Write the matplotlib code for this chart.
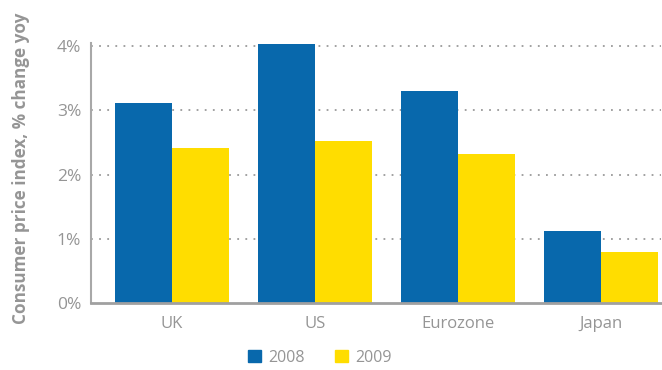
import matplotlib
matplotlib.use("Agg")
import matplotlib.pyplot as plt
import numpy as np
from matplotlib.patches import Patch

categories = ["UK", "US", "Eurozone", "Japan"]
series_names = ["2008", "2009"]
values_2008 = [3.12, 4.03, 3.31, 1.12]
values_2009 = [2.42, 2.52, 2.32, 0.80]
yticks = [0, 1, 2, 3, 4]
ytick_labels = ["0%", "1%", "2%", "3%", "4%"]

blue = "#0868AC"
yellow = "#FFDD00"
grey = "#959595"

plt.rcParams['font.family'] = ['Open Sans', 'DejaVu Sans']

fig = plt.figure(figsize=(6.62, 3.70), dpi=100)
ax = fig.add_axes([91/662, 1-303/370, (661-91)/662, (303-43)/370])

x = np.arange(len(categories))
w = 0.4
ax.bar(x - w/2, values_2008, w, color=blue, zorder=3)
ax.bar(x + w/2, values_2009, w, color=yellow, zorder=3)

ax.set_xlim(-0.566, 3.42)
ax.set_ylim(0, 4.05)
ax.set_yticks(yticks)
ax.set_yticklabels(ytick_labels)
ax.set_xticks(x)
ax.set_xticklabels(categories)
ax.tick_params(axis='both', length=0, colors=grey, labelsize=12)
ax.tick_params(axis='y', labelsize=12.5, pad=7)
ax.tick_params(axis='x', pad=9)

for yv in yticks[1:]:
    ax.axhline(yv, color="#9a9a9a", linestyle=(0, (1, 3.5)), linewidth=1.3, zorder=1)

for s in ['top', 'right']:
    ax.spines[s].set_visible(False)
ax.spines['left'].set_color("#a8a8a8")
ax.spines['left'].set_linewidth(1.5)
ax.spines['bottom'].set_color("#a0a0a0")
ax.spines['bottom'].set_linewidth(2)
ax.spines['bottom'].set_zorder(4)

fig.text(0.031, 0.545, "Consumer price index, % change yoy", rotation=90,
         ha='center', va='center', color=grey, fontsize=12.3, fontweight='bold')

handles = [Patch(color=blue, label=series_names[0]), Patch(color=yellow, label=series_names[1])]
leg = fig.legend(handles=handles, loc='center', bbox_to_anchor=(0.483, 0.033), ncol=2,
                 frameon=False, fontsize=11.5, handlelength=0.8, handleheight=0.8,
                 handletextpad=0.45, columnspacing=1.9)
for t in leg.get_texts():
    t.set_color(grey)

fig.savefig("out.png", dpi=100)
